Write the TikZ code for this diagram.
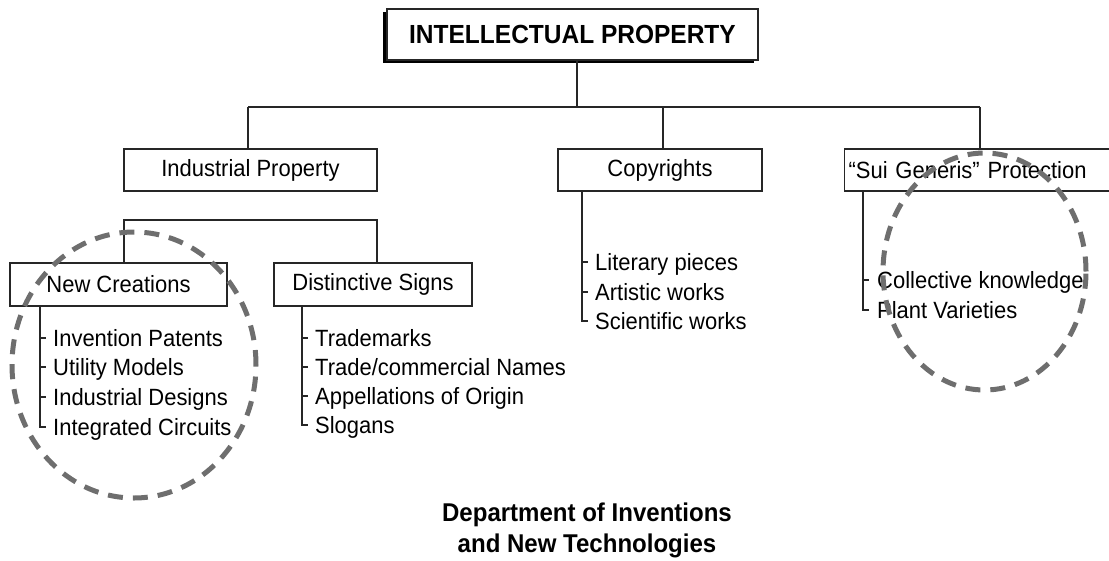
\documentclass[tikz,border=0pt]{standalone}
\usepackage{fontspec}
\setmainfont{Liberation Sans}[FakeStretch=0.935]
\usetikzlibrary{shadows}
\begin{document}
\begin{tikzpicture}[x=1pt,y=-1pt,
  line/.style={draw=black!85, line width=1.2pt},
  box/.style={draw=black!85, line width=1.2pt, fill=white, inner sep=0pt,
    font=\fontsize{23.5}{27}\selectfont},
  item/.style={anchor=west, inner sep=0pt, text height=17pt, text depth=0pt,
    font=\fontsize{23.5}{27}\selectfont},
  halo/.style={draw=black!57, line width=5pt, dash pattern=on 15pt off 10pt},
]
\useasboundingbox (0,0) rectangle (1109,560);

% root
\node[box, minimum width=371pt, minimum height=51pt,
  font=\bfseries\fontsize{26.2}{30}\selectfont,
  drop shadow={shadow xshift=-4pt, shadow yshift=-3pt, fill=black, opacity=1}]
  (title) at (572.5,34.5) {INTELLECTUAL PROPERTY};

% main branches
\node[box, minimum width=253pt, minimum height=42pt] (ind) at (250.5,170) {Industrial Property};
\node[box, minimum width=204pt, minimum height=42pt] (cop) at (660,170) {Copyrights};
\node[box, anchor=west, minimum height=42pt, text width=263pt, align=left, inner xsep=4pt]
  (sui) at (844,170) {“Sui Generis” Protection};

\coordinate (hub) at (577,107);
\coordinate (dInd) at (248,107);
\coordinate (dCop) at (663,107);
\coordinate (dSui) at (980,107);
\draw[line] (title.south -| hub) -- (hub);
\draw[line] (dInd) -- (dSui);
\draw[line] (dInd) -- (dInd |- ind.north);
\draw[line] (dCop) -- (dCop |- cop.north);
\draw[line] (dSui) -- (dSui |- sui.north);

% industrial property sub-branches
\node[box, minimum width=217pt, minimum height=43pt] (nc) at (118.5,284.5) {New Creations};
\node[box, minimum width=198pt, minimum height=43pt] (ds) at (373,284.5) {Distinctive Signs};
\coordinate (bNC) at (124,220);
\coordinate (bDS) at (377,220);
\draw[line] (nc.north -| bNC) -- (bNC) -- (bDS) -- (ds.north -| bDS);

% lists
\node[item] (nc1) at (53,338) {Invention Patents};
\node[item] (nc2) at (53,367) {Utility Models};
\node[item] (nc3) at (53,397) {Industrial Designs};
\node[item] (nc4) at (53,427) {Integrated Circuits};
\coordinate (sNC) at (40,306);
\draw[line] (nc.south -| sNC) -- (sNC |- nc4) -- ++(6,0);
\foreach \n in {nc1,nc2,nc3} \draw[line] (sNC |- \n) -- ++(6,0);

\node[item] (ds1) at (315,338) {Trademarks};
\node[item] (ds2) at (315,367) {Trade/commercial Names};
\node[item] (ds3) at (315,396) {Appellations of Origin};
\node[item] (ds4) at (315,425) {Slogans};
\coordinate (sDS) at (302,306);
\draw[line] (ds.south -| sDS) -- (sDS |- ds4) -- ++(6,0);
\foreach \n in {ds1,ds2,ds3} \draw[line] (sDS |- \n) -- ++(6,0);

\node[item] (cp1) at (595,262) {Literary pieces};
\node[item] (cp2) at (595,292) {Artistic works};
\node[item] (cp3) at (595,321) {Scientific works};
\coordinate (sCP) at (582,191);
\draw[line] (cop.south -| sCP) -- (sCP |- cp3) -- ++(6,0);
\foreach \n in {cp1,cp2} \draw[line] (sCP |- \n) -- ++(6,0);

\node[item] (sg1) at (877,280) {Collective knowledge};
\node[item] (sg2) at (877,310) {Plant Varieties};
\coordinate (sSG) at (863,191);
\draw[line] (sui.south -| sSG) -- (sSG |- sg2) -- ++(6,0);
\draw[line] (sSG |- sg1) -- ++(6,0);

% footer
\node[font=\bfseries\fontsize{25.7}{31}\selectfont, align=center, inner sep=0pt]
  (dept) at (587,530) {Department of Inventions\\and New Technologies};

% dashed highlight rings
\draw[halo] (134,365) ellipse [x radius=122pt, y radius=133pt];
\draw[halo] (984.5,271.5) ellipse [x radius=101.5pt, y radius=118.5pt];
\end{tikzpicture}
\end{document}
